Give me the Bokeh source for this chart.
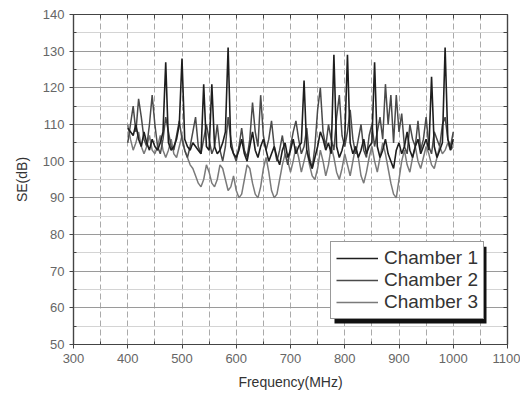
from bokeh.plotting import figure
from bokeh.models import (Range1d, FixedTicker, LinearAxis, Legend, LegendItem,
                          BoxAnnotation)
from bokeh.embed import file_html
from bokeh.resources import INLINE

# ---- data ----
freq = list(range(400, 1001, 5))

chamber1 = [109, 108, 107, 110, 106, 104, 108, 105, 103, 106,
            104, 103, 105, 108, 127, 105, 103, 104, 106, 110,
            128, 106, 104, 103, 105, 104, 103, 102, 121, 104,
            103, 121, 104, 102, 103, 105, 108, 131, 104, 102,
            101, 103, 106, 102, 100, 104, 108, 103, 101, 104,
            106, 103, 100, 102, 104, 101, 99, 103, 105, 101,
            103, 106, 102, 104, 105, 122, 103, 100, 98, 101,
            104, 108, 106, 103, 105, 102, 129, 104, 101, 103,
            106, 129, 105, 102, 104, 101, 103, 106, 102, 104,
            105, 127, 104, 101, 103, 106, 102, 100, 98, 103,
            105, 102, 104, 108, 103, 101, 104, 106, 102, 104,
            106, 103, 123, 104, 101, 103, 105, 131, 106, 103,
            106]

chamber2 = [105, 110, 115, 108, 117, 112, 106, 104, 110, 118,
            110, 104, 102, 106, 112, 108, 104, 103, 107, 111,
            106, 103, 101, 104, 108, 112, 104, 102, 106, 110,
            106, 102, 104, 110, 103, 100, 104, 112, 106, 102,
            100, 104, 109, 103, 101, 106, 116, 108, 104, 118,
            107, 103, 106, 111, 104, 100, 103, 107, 102, 99,
            104, 108, 111, 106, 102, 104, 109, 101, 98, 104,
            114, 120, 108, 104, 110, 106, 103, 112, 118, 107,
            104, 108, 114, 106, 102, 106, 110, 103, 101, 107,
            110, 104, 108, 112, 106, 121, 110, 118, 105, 118,
            108, 113, 104, 102, 110, 106, 104, 111, 103, 106,
            112, 104, 102, 108, 106, 104, 110, 112, 106, 104,
            108]

chamber3 = [110, 106, 103, 105, 108, 104, 102, 104, 107, 103,
            102, 104, 107, 103, 101, 103, 106, 102, 101, 104,
            107, 103, 101, 99, 98, 96, 94, 93, 95, 99,
            97, 94, 93, 95, 99, 98, 95, 92, 93, 96,
            92, 90, 91, 95, 99, 98, 94, 91, 90, 93,
            98, 101, 97, 92, 90, 91, 95, 99, 102, 100,
            97, 100, 104, 101, 97, 100, 103, 99, 96, 95,
            98, 103, 100, 96, 99, 104, 101, 97, 95, 98,
            102, 99, 96, 100, 104, 101, 96, 94, 97, 101,
            104, 100, 97, 101, 105, 102, 98, 94, 91, 90,
            95, 100, 103, 99, 97, 101, 104, 100, 98, 101,
            104, 102, 99, 98, 101, 104, 102, 103, 105, 103,
            104]

series_names = ["Chamber 1", "Chamber 2", "Chamber 3"]
x_ticks = [300, 400, 500, 600, 700, 800, 900, 1000, 1100]
y_ticks = [50, 60, 70, 80, 90, 100, 110, 120, 130, 140]

# ---- figure ----
W, H = 520, 392
ML, MR, MT, MB = 73, 13, 14, 47
p = figure(width=W, height=H, output_backend="svg", toolbar_location=None,
           x_range=Range1d(300, 1100), y_range=Range1d(50, 140),
           min_border_left=ML, min_border_right=MR,
           min_border_top=MT, min_border_bottom=MB)
p.background_fill_color = "white"
p.border_fill_color = "white"
p.outline_line_color = "#444444"
p.outline_line_width = 1.2

FONT = "Liberation Sans"
xt = FixedTicker(ticks=x_ticks, minor_ticks=[350, 450, 550, 650, 750, 850, 950, 1050])
yt = FixedTicker(ticks=y_ticks, minor_ticks=[55, 65, 75, 85, 95, 105, 115, 125, 135])

xa = p.xaxis[0]
xa.ticker = xt
xa.axis_label = "Frequency(MHz)"
ya = p.yaxis[0]
ya.ticker = yt
ya.axis_label = "SE(dB)"
for ax in (xa, ya):
    ax.axis_line_color = "#444444"
    ax.axis_line_width = 1.2
    ax.major_tick_line_color = "#444444"
    ax.minor_tick_line_color = "#444444"
    ax.major_tick_out = 4
    ax.major_tick_in = 0
    ax.minor_tick_out = 0
    ax.minor_tick_in = 3
    ax.major_label_text_font = FONT
    ax.major_label_text_font_size = "13px"
    ax.major_label_text_color = "#666666"
    ax.axis_label_text_font = FONT
    ax.axis_label_text_font_size = "14px"
    ax.axis_label_text_font_style = "normal"
    ax.axis_label_text_color = "#333333"
    ax.major_label_standoff = 5
xa.axis_label_standoff = 8
ya.axis_label_standoff = 10

# mirror axes (top & right), ticks inward, no labels
for loc, tk, tv in (("above", xt, x_ticks), ("right", yt, y_ticks)):
    ax = LinearAxis(ticker=tk, major_label_overrides={t: "" for t in tv},
                    axis_line_color="#444444", axis_line_width=1.2,
                    major_tick_line_color="#444444", minor_tick_line_color="#444444",
                    major_tick_in=4, major_tick_out=0, minor_tick_in=4, minor_tick_out=0,
                    major_label_standoff=0)
    p.add_layout(ax, loc)

# grids
p.xgrid.ticker = xt
p.ygrid.ticker = yt
p.xgrid.grid_line_color = "#aaaaaa"
p.xgrid.grid_line_dash = "6 3"
p.xgrid.minor_grid_line_color = "#aaaaaa"
p.xgrid.minor_grid_line_dash = "6 3"
p.ygrid.grid_line_color = "#9a9a9a"
p.ygrid.grid_line_width = 1.2
p.ygrid.minor_grid_line_color = "#d4d4d4"
p.ygrid.minor_grid_line_width = 1.2

# series
colors = ["#1e1e1e", "#4a4a4a", "#7a7a7a"]
widths = [1.6, 1.5, 1.5]
r3 = p.line(freq, chamber3, line_color=colors[2], line_width=widths[2])
r2 = p.line(freq, chamber2, line_color=colors[1], line_width=widths[1])
r1 = p.line(freq, chamber1, line_color=colors[0], line_width=widths[0])

# legend shadow (decoration) in data units derived from frame pixels
fw = W - ML - MR
fh = H - MT - MB
def px2x(fx):
    return 300 + fx / fw * 800
def px2y(fy):
    return 140 - fy / fh * 90
shadow = BoxAnnotation(left=px2x(261), right=px2x(413), top=px2y(233), bottom=px2y(310),
                       fill_color="#111111", fill_alpha=1.0, line_color=None, level="overlay")
p.add_layout(shadow)

legend = Legend(items=[LegendItem(label=series_names[0], renderers=[r1]),
                       LegendItem(label=series_names[1], renderers=[r2]),
                       LegendItem(label=series_names[2], renderers=[r3])],
                location=(257, 25), margin=0, padding=5, spacing=0,
                glyph_width=42, glyph_height=22, label_height=22, label_standoff=6,
                label_text_font=FONT, label_text_font_size="19px", label_text_color="#333333",
                border_line_color="#333333", border_line_width=1,
                background_fill_color="white", background_fill_alpha=1.0)
p.add_layout(legend)

open("out.html", "w").write(file_html(p, INLINE))
